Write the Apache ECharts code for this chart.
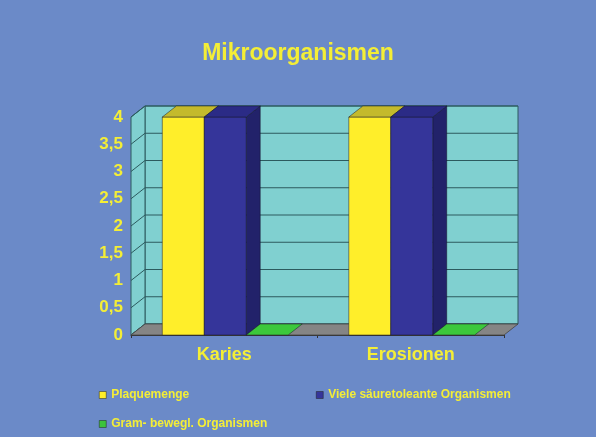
<!DOCTYPE html>
<html>
<head>
<meta charset="utf-8">
<script src="https://cdn.jsdelivr.net/npm/echarts@6/dist/echarts.min.js"></script>
<style>
html,body{margin:0;padding:0;background:#6b8ac8;}
#c{width:596px;height:437px;}
</style>
</head>
<body>
<div id="c"></div>
<script>
// ---- data ----
const categories = ['Karies', 'Erosionen'];
const seriesNames = ['Plaquemenge', 'Viele säuretoleante Organismen', 'Gram- bewegl. Organismen'];
const plaquemenge = [4, 4];
const saeuretolerant = [4, 4];
const gramBewegl = [0, 0];
const yMin = 0, yMax = 4, yStep = 0.5;
const yTickValues = [0, 0.5, 1, 1.5, 2, 2.5, 3, 3.5, 4];

// ---- styles ----
const DX = 14, DY = -11;
const TXT = '#f4ee36';
const palette = [
  {front: '#ffee2a', top: '#c4ba2c', side: '#b8ae20'},
  {front: '#35359a', top: '#2b2b86', side: '#22226a'},
  {front: '#3cc33c', top: '#3cc83c', side: '#2a962a'}
];

function wallRender(params, api) {
  const cs = params.coordSys;
  const x0 = cs.x, x1 = cs.x + cs.width, yT = cs.y, yB = cs.y + cs.height;
  const stroke = '#2c5a5e';
  const ch = [];
  ch.push({type: 'rect', shape: {x: x0 + DX, y: yT + DY, width: x1 - x0, height: yB - yT},
    style: {fill: '#80d0d0', stroke: stroke, lineWidth: 1}});
  ch.push({type: 'polygon', shape: {points: [[x0, yT], [x0 + DX, yT + DY], [x0 + DX, yB + DY], [x0, yB]]},
    style: {fill: '#80d0d0', stroke: stroke, lineWidth: 1}});
  yTickValues.forEach(function (t) {
    const y = api.coord([0, t])[1];
    ch.push({type: 'line', shape: {x1: x0 + DX, y1: y + DY, x2: x1 + DX, y2: y + DY},
      style: {stroke: stroke, lineWidth: 1}});
    ch.push({type: 'line', shape: {x1: x0, y1: y, x2: x0 + DX, y2: y + DY},
      style: {stroke: stroke, lineWidth: 1}});
  });
  ch.push({type: 'polygon', shape: {points: [[x0, yB], [x0 + DX, yB + DY], [x1 + DX, yB + DY], [x1, yB]]},
    style: {fill: '#858585', stroke: '#444', lineWidth: 0.8}});
  return {type: 'group', children: ch};
}

function barRender(sIdx) {
  return function (params, api) {
    const ci = api.value(0), v = api.value(1);
    const top = api.coord([ci, v]);
    const base = api.coord([ci, 0]);
    const band = api.size([1, 0])[0];
    const w = band * 0.225;
    const x = top[0] - 1.5 * w + sIdx * w + 1;
    const yv = top[1], y0 = base[1];
    const c = palette[sIdx];
    const edge = {stroke: 'rgba(20,20,40,0.7)', lineWidth: 0.7};
    const ch = [];
    if (y0 - yv > 0.5) {
      ch.push({type: 'polygon', shape: {points: [[x + w, yv], [x + w + DX, yv + DY], [x + w + DX, y0 + DY], [x + w, y0]]},
        style: Object.assign({fill: c.side}, edge)});
      ch.push({type: 'rect', shape: {x: x, y: yv, width: w, height: y0 - yv},
        style: Object.assign({fill: c.front}, edge)});
    }
    ch.push({type: 'polygon', shape: {points: [[x, yv], [x + DX, yv + DY], [x + w + DX, yv + DY], [x + w, yv]]},
      style: Object.assign({fill: c.top}, edge)});
    return {type: 'group', children: ch};
  };
}

const dataSets = [plaquemenge, saeuretolerant, gramBewegl];
const barSeries = dataSets.map(function (arr, s) {
  return {
    type: 'custom', name: seriesNames[s], clip: false, z: 3,
    itemStyle: {color: palette[s].front},
    encode: {x: 0, y: 1},
    renderItem: barRender(s),
    data: arr.map(function (v, i) { return [i, v]; })
  };
});

const legendText = {color: TXT, fontWeight: 'bold', fontSize: 12, fontFamily: 'Liberation Sans, Arial, sans-serif'};
function mkLegend(name, left, top) {
  return {data: [name], left: left, top: top, itemWidth: 7, itemHeight: 7, icon: 'rect',
    itemGap: 5, selectedMode: false,
    itemStyle: {borderColor: '#222', borderWidth: 0.5},
    textStyle: legendText};
}

const chart = echarts.init(document.getElementById('c'));
chart.setOption({
  backgroundColor: '#6b8ac8',
  animation: false,
  title: {text: 'Mikroorganismen', left: 'center', top: 37,
    textStyle: {color: TXT, fontSize: 23, fontWeight: 'bold', fontFamily: 'Liberation Sans, Arial, sans-serif'}},
  legend: [
    mkLegend(seriesNames[0], 94, 384),
    mkLegend(seriesNames[1], 311, 384),
    mkLegend(seriesNames[2], 94, 413)
  ],
  grid: {left: 131, right: 92, top: 117, bottom: 102},
  xAxis: {
    type: 'category', data: categories,
    axisLine: {show: true, lineStyle: {color: '#333', width: 1}},
    axisTick: {show: true, length: 3, lineStyle: {color: '#333'}},
    axisLabel: {color: TXT, fontSize: 18, fontWeight: 'bold', margin: 11,
      fontFamily: 'Liberation Sans, Arial, sans-serif'},
    splitLine: {show: false}
  },
  yAxis: {
    type: 'value', min: yMin, max: yMax, interval: yStep,
    axisLine: {show: true, lineStyle: {color: '#333', width: 1}},
    axisTick: {show: false},
    splitLine: {show: false},
    axisLabel: {color: TXT, fontSize: 17, fontWeight: 'bold', margin: 8,
      fontFamily: 'Liberation Sans Narrow, Liberation Sans, Arial, sans-serif',
      formatter: function (v) { return String(v).replace('.', ','); }}
  },
  series: [{
    type: 'custom', name: 'wall', clip: false, z: 1, silent: true,
    encode: {x: 0, y: 1},
    renderItem: wallRender,
    data: [[0, 0]]
  }].concat(barSeries)
});
</script>
</body>
</html>
